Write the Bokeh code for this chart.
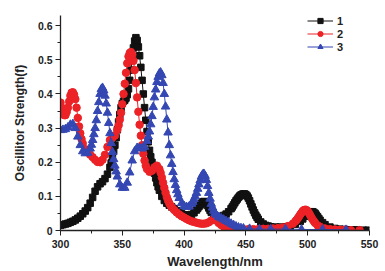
from bokeh.plotting import figure
from bokeh.models import Range1d, Legend, LegendItem, FixedTicker
from bokeh.embed import file_html
from bokeh.resources import INLINE

# ---------------- data ----------------
x1 = [300, 302, 304, 306, 308, 310, 312, 314, 316, 318, 320, 322, 324, 326, 328,
      330, 332, 334, 336, 338, 340, 341, 342, 343, 344, 345, 346, 347, 348, 349,
      350, 351, 352, 353, 354, 355, 356, 357, 358, 359, 360, 361, 362, 363, 364,
      365, 366, 367, 368, 369, 370, 371, 372, 373, 374, 375, 376, 377, 378, 379,
      380, 382, 384, 386, 388, 390, 392, 394, 396, 398, 400, 402, 404, 406, 408,
      410, 411, 412, 413, 414, 415, 416, 417, 418, 419, 420, 421, 422, 424, 426,
      428, 430, 432, 434, 436, 438, 439, 440, 441, 442, 443, 444, 445, 446, 447,
      448, 449, 450, 451, 452, 453, 454, 455, 456, 457, 458, 459, 460, 462, 464,
      466, 468, 470, 474, 478, 482, 486, 490, 494, 496, 498, 499, 500, 501, 502,
      503, 504, 505, 506, 507, 508, 509, 510, 512, 514, 518, 522, 526, 530, 535,
      540, 545, 549]
y1 = [0.015, 0.017, 0.019, 0.021, 0.024, 0.027, 0.031, 0.036, 0.042, 0.049, 0.057, 0.067, 0.080, 0.097, 0.115,
      0.128, 0.137, 0.143, 0.152, 0.165, 0.185, 0.198, 0.215, 0.232, 0.250, 0.272, 0.295, 0.318, 0.340, 0.360,
      0.372, 0.379, 0.382, 0.388, 0.398, 0.415, 0.440, 0.470, 0.505, 0.535, 0.555, 0.565, 0.557, 0.538, 0.512,
      0.478, 0.440, 0.400, 0.360, 0.323, 0.290, 0.260, 0.235, 0.216, 0.200, 0.184, 0.168, 0.154, 0.140, 0.128,
      0.118, 0.100, 0.088, 0.080, 0.074, 0.069, 0.064, 0.058, 0.053, 0.049, 0.046, 0.045, 0.045, 0.047, 0.052,
      0.060, 0.065, 0.070, 0.075, 0.080, 0.084, 0.085, 0.083, 0.080, 0.073, 0.066, 0.059, 0.053, 0.045, 0.041,
      0.040, 0.041, 0.044, 0.048, 0.055, 0.064, 0.069, 0.075, 0.081, 0.087, 0.092, 0.097, 0.101, 0.104, 0.106,
      0.107, 0.107, 0.105, 0.101, 0.095, 0.087, 0.078, 0.069, 0.060, 0.052, 0.045, 0.039, 0.033, 0.025, 0.019,
      0.015, 0.013, 0.011, 0.010, 0.010, 0.011, 0.013, 0.018, 0.027, 0.034, 0.042, 0.045, 0.048, 0.051, 0.054,
      0.055, 0.055, 0.053, 0.050, 0.045, 0.040, 0.035, 0.030, 0.023, 0.017, 0.010, 0.006, 0.004, 0.003, 0.002,
      0.002, 0.001, 0.001]

x2 = [300, 301, 302, 303, 304, 305, 306, 307, 308, 309, 310, 311, 312, 313, 314,
      315, 316, 317, 318, 320, 322, 324, 326, 328, 330, 332, 334, 336, 338, 340,
      342, 344, 346, 347, 348, 349, 350, 351, 352, 353, 354, 355, 356, 357, 358,
      359, 360, 361, 362, 363, 364, 365, 366, 367, 368, 369, 370, 372, 374, 376,
      378, 380, 381, 382, 383, 384, 385, 386, 387, 388, 389, 390, 392, 394, 396,
      398, 400, 402, 404, 406, 408, 410, 412, 414, 416, 418, 420, 422, 424, 426,
      428, 430, 432, 434, 436, 438, 440, 444, 448, 452, 456, 460, 464, 468, 472,
      476, 480, 484, 488, 490, 491, 492, 493, 494, 495, 496, 497, 498, 499, 500,
      501, 502, 503, 504, 505, 506, 508, 510, 514, 518, 522, 526, 530, 535, 542]
y2 = [0.375, 0.360, 0.345, 0.338, 0.338, 0.347, 0.360, 0.378, 0.395, 0.404, 0.405, 0.398, 0.385, 0.360, 0.330,
      0.305, 0.285, 0.268, 0.255, 0.238, 0.230, 0.222, 0.215, 0.207, 0.201, 0.200, 0.207, 0.222, 0.245, 0.265,
      0.272, 0.278, 0.295, 0.308, 0.325, 0.345, 0.370, 0.400, 0.430, 0.462, 0.490, 0.510, 0.520, 0.523, 0.515,
      0.497, 0.470, 0.432, 0.390, 0.348, 0.310, 0.278, 0.250, 0.225, 0.205, 0.190, 0.180, 0.172, 0.175, 0.185,
      0.190, 0.180, 0.169, 0.155, 0.140, 0.125, 0.111, 0.098, 0.088, 0.080, 0.073, 0.068, 0.060, 0.053, 0.047,
      0.042, 0.038, 0.034, 0.030, 0.027, 0.025, 0.023, 0.021, 0.020, 0.020, 0.021, 0.024, 0.029, 0.032, 0.029,
      0.022, 0.016, 0.012, 0.010, 0.008, 0.007, 0.006, 0.005, 0.004, 0.004, 0.004, 0.004, 0.005, 0.005, 0.006,
      0.007, 0.009, 0.013, 0.020, 0.027, 0.031, 0.036, 0.041, 0.047, 0.052, 0.057, 0.060, 0.061, 0.060, 0.057,
      0.051, 0.045, 0.038, 0.032, 0.027, 0.022, 0.015, 0.011, 0.006, 0.004, 0.003, 0.002, 0.002, 0.001, 0.001]

x3 = [300, 302, 304, 306, 308, 310, 312, 314, 316, 318, 320, 322, 324, 325, 326,
      327, 328, 329, 330, 331, 332, 333, 334, 335, 336, 337, 338, 339, 340, 341,
      342, 343, 344, 345, 346, 348, 350, 352, 354, 356, 358, 360, 362, 364, 366,
      368, 370, 371, 372, 373, 374, 375, 376, 377, 378, 379, 380, 381, 382, 383,
      384, 385, 386, 387, 388, 389, 390, 391, 392, 393, 394, 395, 396, 398, 400,
      402, 404, 406, 407, 408, 409, 410, 411, 412, 413, 414, 415, 416, 417, 418,
      419, 420, 421, 422, 423, 424, 425, 426, 428, 430, 432, 434, 436, 438, 440,
      442, 444, 446, 448, 453, 461, 470, 482, 495, 512, 531]
y3 = [0.294, 0.295, 0.297, 0.302, 0.310, 0.312, 0.300, 0.275, 0.250, 0.232, 0.226, 0.228, 0.240, 0.251, 0.265,
      0.282, 0.300, 0.323, 0.350, 0.376, 0.400, 0.414, 0.418, 0.410, 0.395, 0.372, 0.345, 0.315, 0.285, 0.256,
      0.230, 0.209, 0.190, 0.173, 0.158, 0.135, 0.125, 0.125, 0.140, 0.170, 0.205, 0.232, 0.242, 0.242, 0.240,
      0.245, 0.262, 0.275, 0.290, 0.311, 0.335, 0.362, 0.390, 0.413, 0.435, 0.450, 0.460, 0.463, 0.455, 0.432,
      0.400, 0.363, 0.325, 0.287, 0.250, 0.220, 0.195, 0.171, 0.150, 0.133, 0.118, 0.106, 0.095, 0.080, 0.072,
      0.069, 0.070, 0.078, 0.084, 0.092, 0.100, 0.110, 0.122, 0.135, 0.147, 0.158, 0.164, 0.166, 0.160, 0.148,
      0.130, 0.110, 0.093, 0.078, 0.067, 0.058, 0.051, 0.046, 0.040, 0.036, 0.032, 0.028, 0.024, 0.020, 0.016,
      0.012, 0.009, 0.007, 0.006, 0.005, 0.004, 0.004, 0.004, 0.003, 0.003, 0.002]

series_names = ["1", "2", "3"]
x_ticks = [300, 350, 400, 450, 500, 550]
x_minor = [325, 375, 425, 475, 525]
y_ticks = [0.0, 0.1, 0.2, 0.3, 0.4, 0.5, 0.6]
y_minor = [0.05, 0.15, 0.25, 0.35, 0.45, 0.55]

# ---------------- figure ----------------
FONT = "Liberation Sans"
BLACK = "#111111"
RED = "#ec2226"
BLUE = "#3447b2"

p = figure(width=385, height=271, output_backend="svg", toolbar_location=None,
           x_range=Range1d(300, 550), y_range=Range1d(0, 0.63),
           min_border_left=60, min_border_right=16, min_border_top=15, min_border_bottom=40)
p.xgrid.visible = False
p.ygrid.visible = False
p.outline_line_color = None
p.background_fill_color = "white"

r1a = p.line(x1, y1, line_color=BLACK, line_width=1)
r1b = p.scatter(x1, y1, marker="square", size=6.5, fill_color=BLACK, line_color=BLACK)
r2a = p.line(x2, y2, line_color=RED, line_width=1)
r2b = p.scatter(x2, y2, marker="circle", size=7.5, fill_color=RED, line_color=RED)
r3a = p.line(x3, y3, line_color=BLUE, line_width=1)
r3b = p.scatter(x3, y3, marker="triangle", size=8.5, fill_color=BLUE, line_color=BLUE)

p.xaxis.ticker = FixedTicker(ticks=x_ticks, minor_ticks=x_minor)
p.yaxis.ticker = FixedTicker(ticks=y_ticks, minor_ticks=y_minor)

for ax in (p.xaxis[0], p.yaxis[0]):
    ax.axis_line_color = "#222222"
    ax.axis_line_width = 1.3
    ax.major_tick_line_color = "#222222"
    ax.minor_tick_line_color = "#222222"
    ax.major_tick_in = 0
    ax.major_tick_out = 5
    ax.minor_tick_in = 0
    ax.minor_tick_out = 3
    ax.major_label_text_font = FONT
    ax.major_label_text_font_style = "bold"
    ax.major_label_text_font_size = "10.5px"
    ax.major_label_text_color = "#222222"
    ax.axis_label_text_font = FONT
    ax.axis_label_text_font_style = "bold"
    ax.axis_label_text_color = "#222222"

p.xaxis.axis_label = "Wavelength/nm"
p.xaxis.axis_label_text_font_size = "13px"
p.xaxis.major_label_standoff = 4
p.xaxis.axis_label_standoff = 3
p.yaxis.axis_label = "Oscillitor Strength(f)"
p.yaxis.axis_label_text_font_size = "12px"
p.yaxis.major_label_standoff = 3
p.yaxis.axis_label_standoff = 8

legend = Legend(items=[
    LegendItem(label=series_names[0], renderers=[r1a, r1b]),
    LegendItem(label=series_names[1], renderers=[r2a, r2b]),
    LegendItem(label=series_names[2], renderers=[r3a, r3b]),
], location=(247, 177))
legend.padding = 0
legend.margin = 0
legend.spacing = 0
legend.glyph_width = 26
legend.glyph_height = 13
legend.label_height = 13
legend.label_standoff = 4
legend.border_line_alpha = 0
legend.background_fill_alpha = 0
legend.label_text_font = FONT
legend.label_text_font_style = "bold"
legend.label_text_font_size = "11px"
legend.label_text_color = "#222222"
p.add_layout(legend, "center")

open("out.html", "w").write(file_html(p, INLINE))
